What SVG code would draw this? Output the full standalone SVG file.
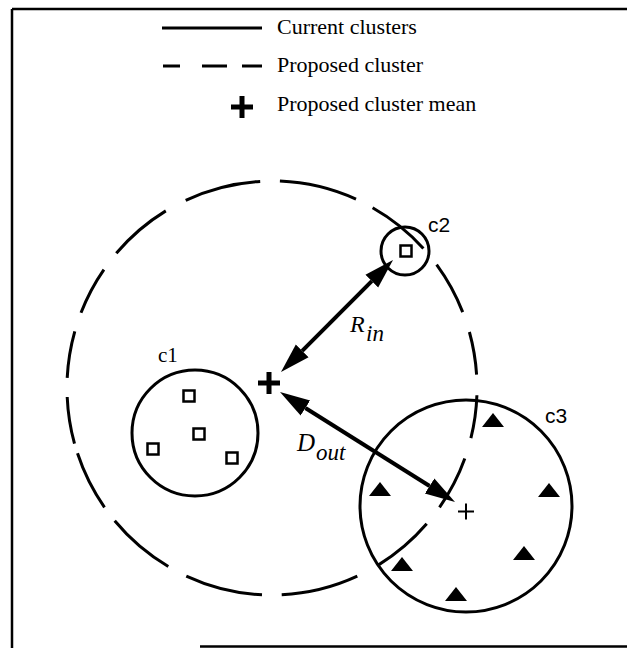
<svg xmlns="http://www.w3.org/2000/svg" xmlns:xlink="http://www.w3.org/1999/xlink" width="627" height="648" viewBox="0 0 627 648">
<style>
  .frame { stroke:#000; stroke-width:2.5; fill:none; }
  .solid { stroke:#000; stroke-width:3; fill:none; }
  .dash { stroke:#000; stroke-width:3; fill:none; stroke-linecap:butt; }
  .serif { font-family:"Liberation Serif","Times New Roman",serif; fill:#000; }
  .sans { font-family:"Liberation Sans",Arial,sans-serif; fill:#000; }
  .ital { font-family:"Liberation Serif","Times New Roman",serif; font-style:italic; fill:#000; }
  .pt { fill:none; stroke:#000; stroke-width:2.5; }
  .tri { fill:#000; }
  .arrow { stroke:#000; stroke-width:4; fill:none; }
</style>
<defs>
  <rect id="sq" x="-5.5" y="-5.5" width="11" height="11" class="pt"/>
  <path id="tri" d="M-11,7 L11,7 L0,-7 Z" class="tri"/>
  <path id="bigplus" d="M-11,0 H11 M0,-11 V11" stroke="#000" stroke-width="5" fill="none"/>
  <marker id="head" viewBox="0 -10 32 20" refX="0" refY="0" markerWidth="32" markerHeight="20" markerUnits="userSpaceOnUse" orient="auto-start-reverse">
    <path d="M0,-9 L30,0 L0,9 Z" fill="#000"/>
  </marker>
</defs>
<rect width="627" height="648" fill="#fff"/>

<g id="frame">
  <path class="frame" d="M12,9 H627 M12,9 V648 M200,646.5 H627"/>
</g>

<g id="legend">
  <line class="solid" x1="162" y1="28" x2="262" y2="28" stroke-width="2.5"/>
  <text class="serif" x="277" y="34" font-size="22">Current clusters</text>
  <path class="dash" d="M163,66 H180 M202,66 H227 M242,66 H262" stroke-width="2.5"/>
  <text class="serif" x="277" y="72" font-size="22">Proposed cluster</text>
  <use href="#bigplus" x="242" y="107"/>
  <text class="serif" x="277" y="111" font-size="22">Proposed cluster mean</text>
</g>

<g id="proposed-cluster">
  <path class="dash" d="M279.9,181.1 A205,207 0 0 1 356.0,199.2
    M372.6,207.7 A205,207 0 0 1 423.4,248.4
    M436.6,264.6 A205,207 0 0 1 462.7,312.1
    M469.4,332.0 A205,207 0 0 1 476.6,374.6
    M476.9,395.2 A205,207 0 0 1 470.9,438.1
    M464.8,458.5 A205,207 0 0 1 439.5,507.3
    M426.7,523.8 A205,207 0 0 1 378.2,565.1
    M357.3,576.2 A205,207 0 0 1 281.7,594.8
    M262.0,594.8 A205,207 0 0 1 186.3,576.1
    M168.3,566.5 A205,207 0 0 1 114.7,520.8
    M104.5,507.3 A205,207 0 0 1 77.5,453.3
    M74.5,443.7 A205,207 0 0 1 67.2,397.0
    M67.2,377.9 A205,207 0 0 1 74.8,331.3
    M81.0,312.8 A205,207 0 0 1 103.9,269.6
    M116.3,253.3 A205,207 0 0 1 165.8,210.9
    M185.7,200.3 A205,207 0 0 1 260.2,181.4"/>
  <use id="proposed-mean" href="#bigplus" x="269" y="383"/>
</g>

<g id="cluster-c1">
  <circle class="solid" cx="195" cy="433" r="63"/>
  <use href="#sq" x="189" y="396"/>
  <use href="#sq" x="199" y="434"/>
  <use href="#sq" x="153" y="449"/>
  <use href="#sq" x="232" y="458"/>
  <text class="serif" x="158" y="362" font-size="21">c1</text>
</g>

<g id="cluster-c2">
  <circle class="solid" cx="405" cy="251" r="24"/>
  <use href="#sq" x="406" y="251"/>
  <text class="sans" x="428" y="232" font-size="21">c2</text>
</g>

<g id="cluster-c3">
  <circle class="solid" cx="466" cy="506" r="106"/>
  <use href="#tri" x="493" y="420"/>
  <use href="#tri" x="380" y="489"/>
  <use href="#tri" x="549" y="490"/>
  <use href="#tri" x="524" y="553"/>
  <use href="#tri" x="402" y="564"/>
  <use href="#tri" x="456" y="594"/>
  <path d="M458,511.5 H474 M466,503.5 V519.5" stroke="#000" stroke-width="2" fill="none"/>
  <text class="sans" x="545" y="423" font-size="21">c3</text>
</g>

<g id="connectors">
  <line class="arrow" x1="302.2" y1="350.8" x2="371.8" y2="281.2" marker-start="url(#head)" marker-end="url(#head)"/>
  <line class="arrow" x1="305.4" y1="408" x2="429.6" y2="486" marker-start="url(#head)" marker-end="url(#head)"/>
  <text class="ital" x="350" y="332" font-size="24">R</text>
  <text class="ital" x="366" y="341" font-size="23">in</text>
  <text class="ital" x="297" y="451" font-size="25">D</text>
  <text class="ital" x="316" y="460" font-size="23">out</text>
</g>
</svg>
